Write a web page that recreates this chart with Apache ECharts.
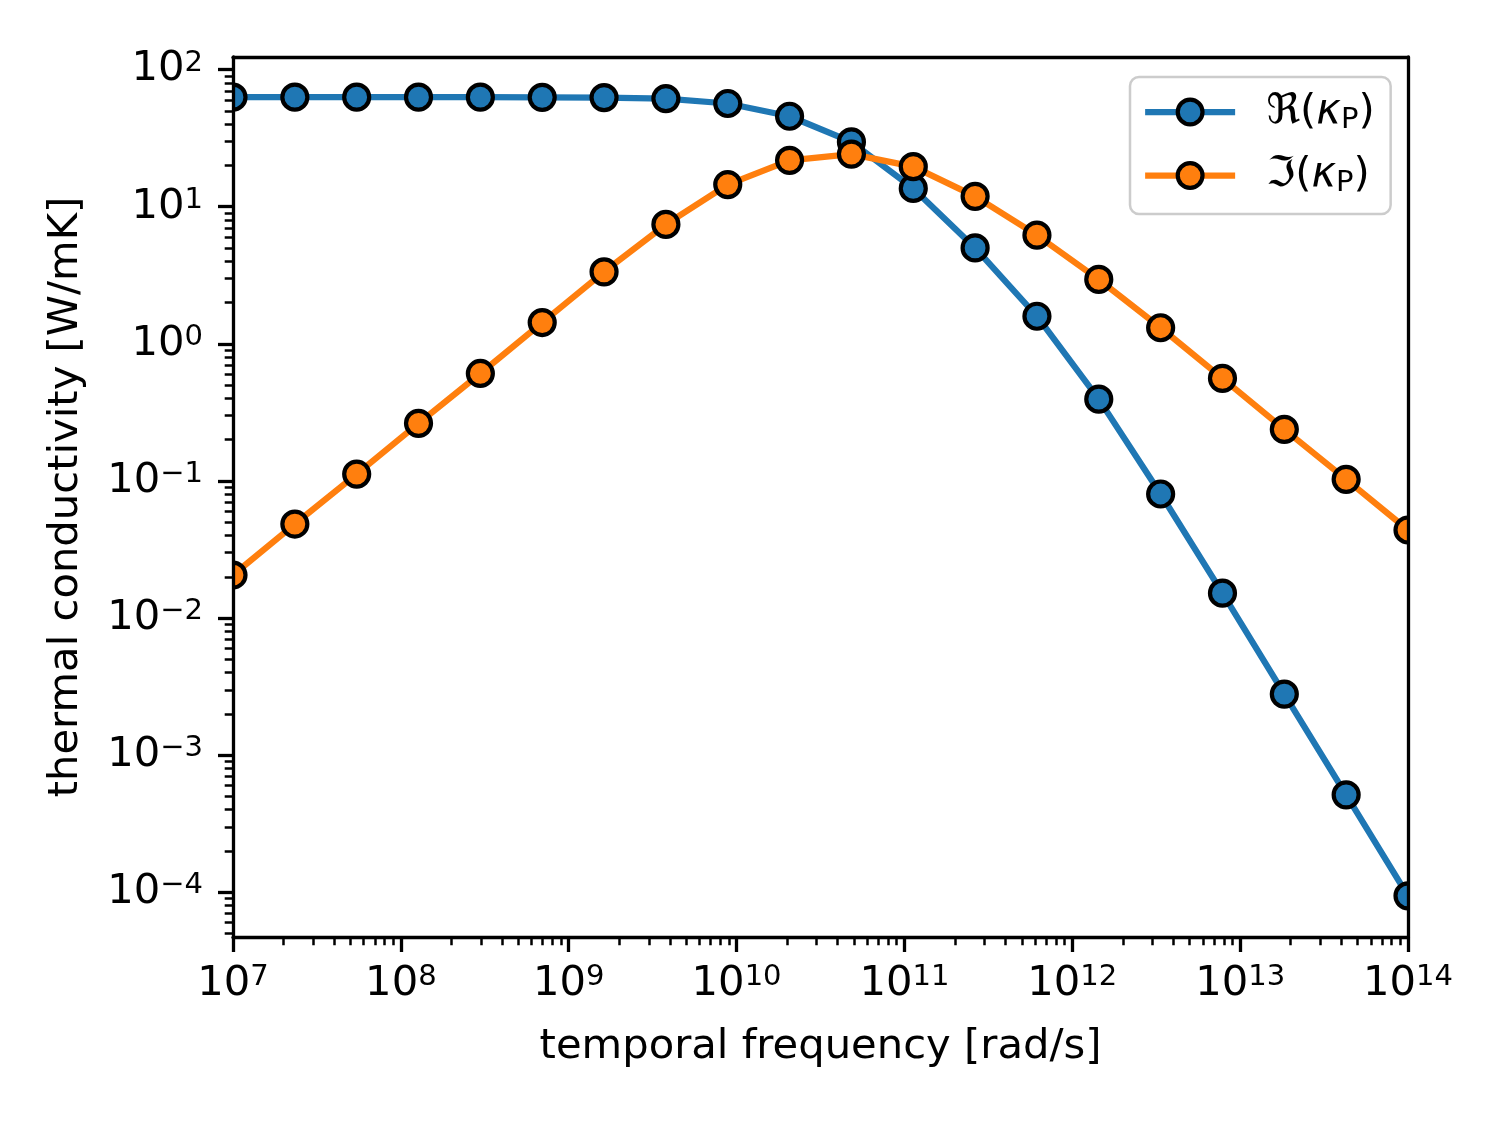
<!DOCTYPE html>
<html>
<head>
<meta charset="utf-8">
<script src="https://cdn.jsdelivr.net/npm/echarts@6/dist/echarts.min.js"></script>
<style>
  html, body { margin: 0; padding: 0; background: #fff; }
  #chart { width: 1500px; height: 1125px; }
</style>
</head>
<body>
<div id="chart"></div>
<script>
// angular frequency samples [rad/s]
const freq = [
  1e7, 2.336e7, 5.456e7, 1.274e8, 2.976e8, 6.952e8, 1.624e9, 3.793e9,
  8.86e9, 2.069e10, 4.833e10, 1.129e11, 2.637e11, 6.158e11, 1.438e12,
  3.36e12, 7.848e12, 1.833e13, 4.281e13, 1e14
];
// real part of kappa_P [W/mK]
const kappaRe = [
  63.0, 63.0, 63.0, 63.0, 63.0, 62.8, 62.5, 61.5, 56.6, 45.7,
  29.7, 13.6, 5.01, 1.59, 0.395, 0.0803, 0.0152, 0.00279, 0.000514, 9.42e-5
];
// imaginary part of kappa_P [W/mK]
const kappaIm = [
  0.0206, 0.0485, 0.1122, 0.263, 0.608, 1.43, 3.35, 7.43, 14.5, 21.8,
  24.2, 19.6, 11.9, 6.20, 2.95, 1.31, 0.560, 0.238, 0.1028, 0.0439
];
const xMajor = [1e7, 1e8, 1e9, 1e10, 1e11, 1e12, 1e13, 1e14];
const yMajor = [1e-4, 1e-3, 1e-2, 1e-1, 1e0, 1e1, 1e2];
const seriesNames = ['re', 'im'];

const X_MIN = 1e7, X_MAX = 1e14;
const Y_MIN = 4.72e-5, Y_MAX = 123.6;

function minorTicks(e0, e1) {
  const out = [];
  for (let e = e0; e <= e1; e++) {
    for (let m = 2; m <= 9; m++) out.push(m * Math.pow(10, e));
  }
  return out;
}

const FONT = 'DejaVu Sans';
const FS = 41.7;

function expLabel(v) {
  const n = Math.round(Math.log10(v));
  const s = n < 0 ? '\u2212' + (-n) : String(n);
  return '{b|10}{s|' + s + '}';
}
const expRich = {
  b: { fontFamily: FONT, fontSize: FS, lineHeight: 42, color: '#000' },
  s: { fontFamily: FONT, fontSize: 29, lineHeight: 20, verticalAlign: 'top', color: '#000' }
};

const chart = echarts.init(document.getElementById('chart'), null, { renderer: 'canvas' });

const axisLineStyle = { color: '#000', width: 3.3 };

const option = {
  animation: false,
  backgroundColor: '#fff',
  grid: { left: 233, top: 57, right: 92, bottom: 188, containLabel: false },
  legend: {
    left: 1130,
    top: 77,
    orient: 'vertical',
    itemWidth: 90,
    itemHeight: 31,
    itemGap: 20,
    padding: [14, 16, 16, 12],
    backgroundColor: 'rgba(255,255,255,0.8)',
    borderColor: '#cccccc',
    borderWidth: 2.5,
    borderRadius: 9,
    data: seriesNames,
    itemStyle: { borderColor: '#000', borderWidth: 4.2 },
    lineStyle: { width: 6.25 },
    formatter: function (name) {
      const head = name === 're' ? '\u211C' : '\u2111';
      return '{a|' + head + '(}{k|\u03BA}{p|P}{a|)}';
    },
    textStyle: {
      rich: {
        a: { fontFamily: FONT, fontSize: FS, lineHeight: 45, color: '#000' },
        k: { fontFamily: FONT, fontSize: FS, fontStyle: 'italic', lineHeight: 45, color: '#000' },
        p: { fontFamily: FONT, fontSize: 29, lineHeight: 34, verticalAlign: 'bottom', color: '#000' }
      },
      padding: [0, 0, 0, 26]
    }
  },
  xAxis: [
    {
      type: 'log',
      min: X_MIN,
      max: X_MAX,
      position: 'bottom',
      z: 10,
      splitLine: { show: false },
      axisLine: { show: true, lineStyle: axisLineStyle },
      axisTick: { show: true, inside: false, length: 15, lineStyle: { color: '#000', width: 3.3 }, customValues: xMajor },
      axisLabel: { customValues: xMajor, margin: 26, formatter: expLabel, rich: expRich },
      name: 'temporal frequency [rad/s]',
      nameLocation: 'middle',
      nameGap: 89,
      nameTextStyle: { fontFamily: FONT, fontSize: FS, color: '#000' }
    },
    {
      type: 'log',
      min: X_MIN,
      max: X_MAX,
      position: 'bottom',
      z: 10,
      splitLine: { show: false },
      axisLine: { show: false },
      axisTick: { show: true, length: 8.3, lineStyle: { color: '#000', width: 2.5 }, customValues: minorTicks(7, 13) },
      axisLabel: { show: false }
    },
    {
      type: 'log',
      min: X_MIN,
      max: X_MAX,
      position: 'top',
      z: 10,
      splitLine: { show: false },
      axisLine: { show: true, lineStyle: axisLineStyle },
      axisTick: { show: false },
      axisLabel: { show: false }
    }
  ],
  yAxis: [
    {
      type: 'log',
      min: Y_MIN,
      max: Y_MAX,
      position: 'left',
      z: 10,
      splitLine: { show: false },
      axisLine: { show: true, lineStyle: axisLineStyle },
      axisTick: { show: true, length: 15, lineStyle: { color: '#000', width: 3.3 }, customValues: yMajor },
      axisLabel: { customValues: yMajor, margin: 30, formatter: expLabel, rich: expRich },
      name: 'thermal conductivity [W/mK]',
      nameLocation: 'middle',
      nameGap: 146,
      nameTextStyle: { fontFamily: FONT, fontSize: FS, color: '#000' }
    },
    {
      type: 'log',
      min: Y_MIN,
      max: Y_MAX,
      position: 'left',
      z: 10,
      splitLine: { show: false },
      axisLine: { show: false },
      axisTick: { show: true, length: 8.3, lineStyle: { color: '#000', width: 2.5 }, customValues: minorTicks(-5, 1) },
      axisLabel: { show: false }
    },
    {
      type: 'log',
      min: Y_MIN,
      max: Y_MAX,
      position: 'right',
      z: 10,
      splitLine: { show: false },
      axisLine: { show: true, lineStyle: axisLineStyle },
      axisTick: { show: false },
      axisLabel: { show: false }
    }
  ],
  // white masks so markers sitting on the frame get cut off like in the original
  graphic: [
    { type: 'rect', left: 204, top: 57, z: 5, silent: true, shape: { width: 28, height: 880 }, style: { fill: '#fff' } },
    { type: 'rect', left: 1409, top: 57, z: 5, silent: true, shape: { width: 30, height: 880 }, style: { fill: '#fff' } }
  ],
  series: [
    {
      name: 're',
      type: 'line',
      z: 2,
      data: freq.map((f, i) => [f, kappaRe[i]]),
      symbol: 'circle',
      symbolSize: 25,
      showAllSymbol: true,
      lineStyle: { color: '#1f77b4', width: 6.25 },
      itemStyle: { color: '#1f77b4', borderColor: '#000', borderWidth: 4.2 },
      emphasis: { disabled: true }
    },
    {
      name: 'im',
      type: 'line',
      z: 3,
      data: freq.map((f, i) => [f, kappaIm[i]]),
      symbol: 'circle',
      symbolSize: 25,
      showAllSymbol: true,
      lineStyle: { color: '#ff7f0e', width: 6.25 },
      itemStyle: { color: '#ff7f0e', borderColor: '#000', borderWidth: 4.2 },
      emphasis: { disabled: true }
    }
  ]
};

chart.setOption(option);
</script>
</body>
</html>
